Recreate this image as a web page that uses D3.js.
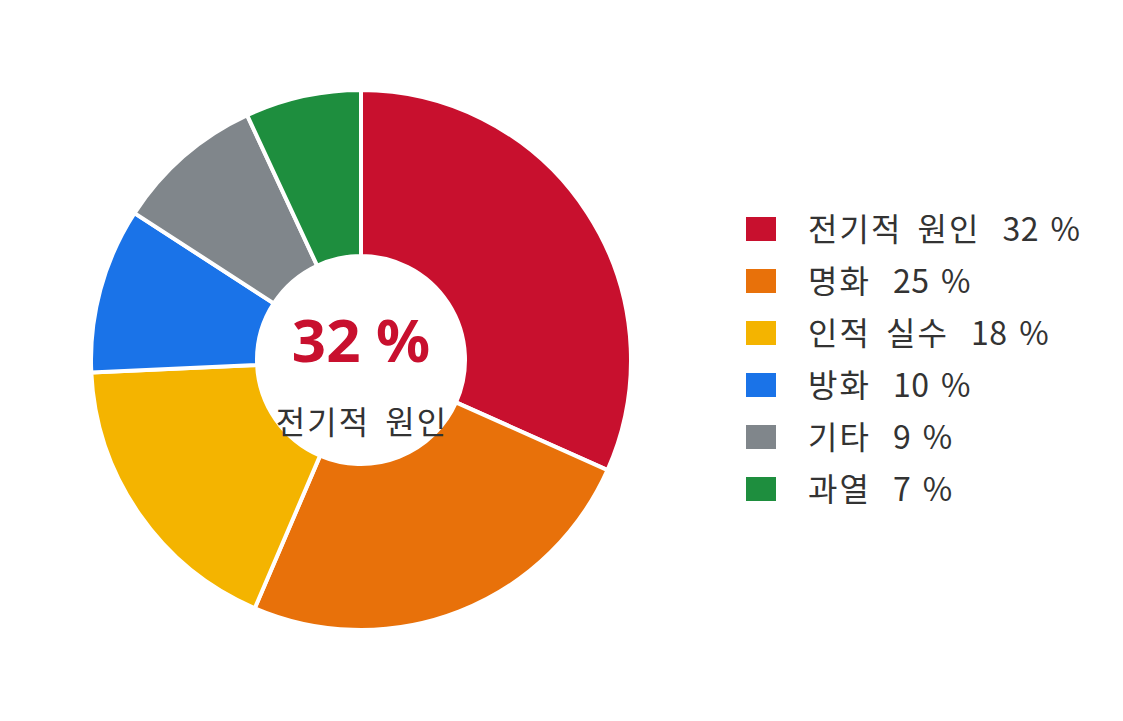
<!DOCTYPE html>
<html><head><meta charset="utf-8">
<script src="https://cdn.jsdelivr.net/npm/d3@7"></script>
<style>body{margin:0;background:#fff;}svg{display:block;font-family:"Noto Sans CJK KR","Noto Sans",sans-serif;}</style>
</head><body>
<svg id="chart" width="1123" height="721"></svg>
<script>
const categories = ["전기적 원인","명화","인적 실수","방화","기타","과열"];
const values = [32,25,18,10,9,7];
const colors = ["#C8102E","#E8710A","#F4B400","#1A73E8","#80868B","#1E8E3E"];

const svg = d3.select("#chart");
const cx = 361, cy = 360, outerR = 270, innerR = 104;
const data = categories.map((c,i)=>({name:c,value:values[i],color:colors[i]}));
const pie = d3.pie().value(d=>d.value).sort(null);
const arc = d3.arc().innerRadius(innerR).outerRadius(outerR);
const g = svg.append("g").attr("transform",`translate(${cx},${cy})`);
g.selectAll("path").data(pie(data)).join("path")
  .attr("d",arc).attr("fill",d=>d.data.color)
  .attr("stroke","#fff").attr("stroke-width",4).attr("stroke-linejoin","round");

g.append("text").attr("x",0).attr("y",2).attr("text-anchor","middle")
  .attr("font-size",60).attr("font-weight","bold").attr("fill",colors[0])
  .attr("font-family","'Noto Sans',sans-serif")
  .text(values[0]+" %");
g.append("text").attr("x",1).attr("y",74).attr("text-anchor","middle")
  .attr("font-size",32).attr("fill","#333").attr("word-spacing",6).attr("letter-spacing",2)
  .text(categories[0]);

const legend = svg.append("g");
const rowY = d3.scalePoint().domain(categories).range([229,489]);
const items = legend.selectAll("g").data(data).join("g")
  .attr("transform",d=>`translate(746,${rowY(d.name)})`);
items.append("rect").attr("x",0).attr("y",-12).attr("width",30).attr("height",24).attr("fill",d=>d.color);
const t = items.append("text").attr("x",62).attr("y",0).attr("dy","0.36em")
  .attr("font-size",32).attr("fill","#333");
t.append("tspan").attr("word-spacing",6).attr("letter-spacing",2).text(d=>d.name);
t.append("tspan").attr("dx",22).attr("word-spacing",4).attr("letter-spacing",0.5).text(d=>d.value+" %");
</script>
</body></html>
